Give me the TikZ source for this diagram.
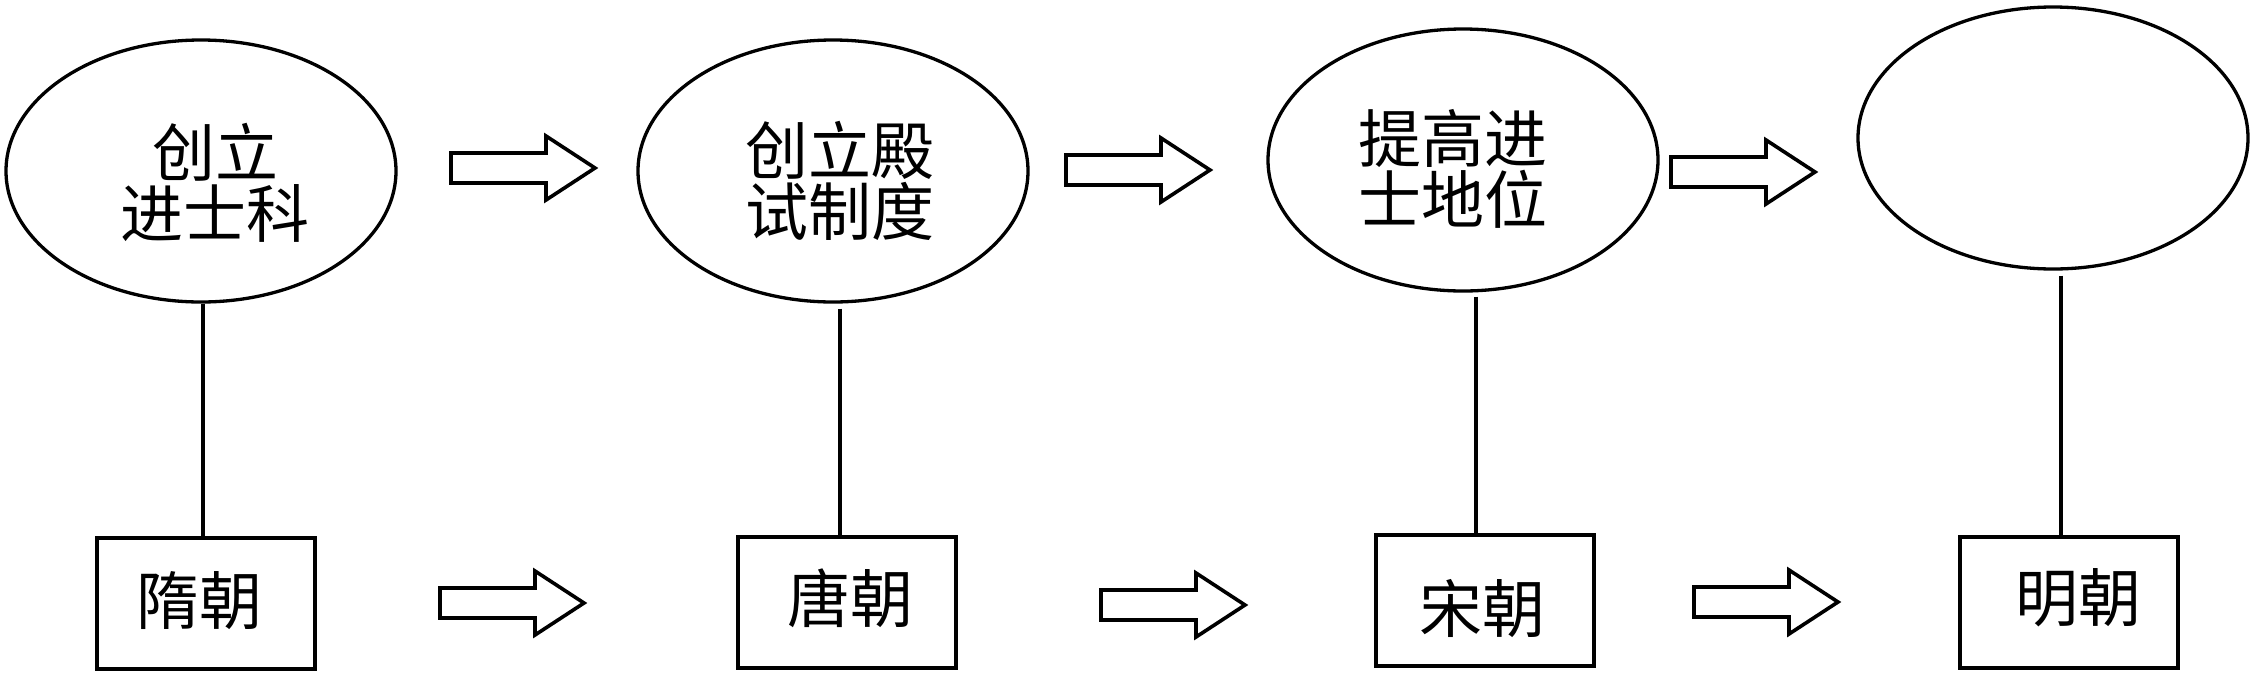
\documentclass[tikz,border=0pt]{standalone}
\usepackage{fontspec}
\newfontfamily\cjk{Noto Sans CJK SC}
\usetikzlibrary{shapes.geometric}
\tikzset{
  oval/.style={ellipse, draw, line width=3.3pt, minimum width=390pt, minimum height=262pt, inner sep=0pt},
  lbl/.style={font=\cjk\fontsize{63}{61}\selectfont, align=center, inner sep=0pt},
  era/.style={draw, line width=4pt, minimum width=218pt, minimum height=131pt, inner sep=0pt},
  link/.style={line width=3.2pt},
  arrowline/.style={draw, line width=3.6pt, fill=white, line join=miter},
  blockarrow/.pic={\path[arrowline] (0,-15) -- (95,-15) -- (95,-32) -- (144,0) -- (95,32) -- (95,15) -- (0,15) -- cycle;}
}
\begin{document}
\begin{tikzpicture}[x=1pt,y=-1pt]
\useasboundingbox (0,0) rectangle (2259,678);
% ellipses
\node[oval] (e1) at (201,171) {};
\node[oval] (e2) at (833,171) {};
\node[oval] (e3) at (1463,160) {};
\node[oval] (e4) at (2053,138) {};
% ellipse texts
\node[lbl] (t1) at (215,183) {创立\\进士科};
\node[lbl] (t2) at (840,181) {创立殿\\试制度};
\node[lbl] (t3) at (1453,169) {提高进\\士地位};
% boxes
\node[era] (b1) at (206,603.5) {};
\node[era] (b2) at (847,602.5) {};
\node[era] (b3) at (1484.5,600) {};
\node[era] (b4) at (2068.5,602.5) {};
\node[lbl] (s1) at (199,601) {隋朝};
\node[lbl] (s2) at (850,598) {唐朝};
\node[lbl] (s3) at (1482,609) {宋朝};
\node[lbl] (s4) at (2078,598) {明朝};
% connector x positions
\coordinate (x1) at (203,0);
\coordinate (x2) at (840,0);
\coordinate (x3) at (1476,0);
\coordinate (x4) at (2061,0);
\draw[link] (e1.south -| x1) -- (b1.north -| x1);
\draw[link] ([yshift=-5pt]e2.south -| x2) -- (b2.north -| x2);
\draw[link] ([yshift=-4pt]e3.south -| x3) -- (b3.north -| x3);
\draw[link] ([yshift=-5pt]e4.south -| x4) -- (b4.north -| x4);
% block arrows, top row
\pic (a1) at (451,168) {blockarrow};
\pic (a2) at (1066,170) {blockarrow};
\pic (a3) at (1671,172) {blockarrow};
% block arrows, bottom row
\pic (c1) at (440,603) {blockarrow};
\pic (c2) at (1101,605) {blockarrow};
\pic (c3) at (1694,602) {blockarrow};
\end{tikzpicture}
\end{document}
